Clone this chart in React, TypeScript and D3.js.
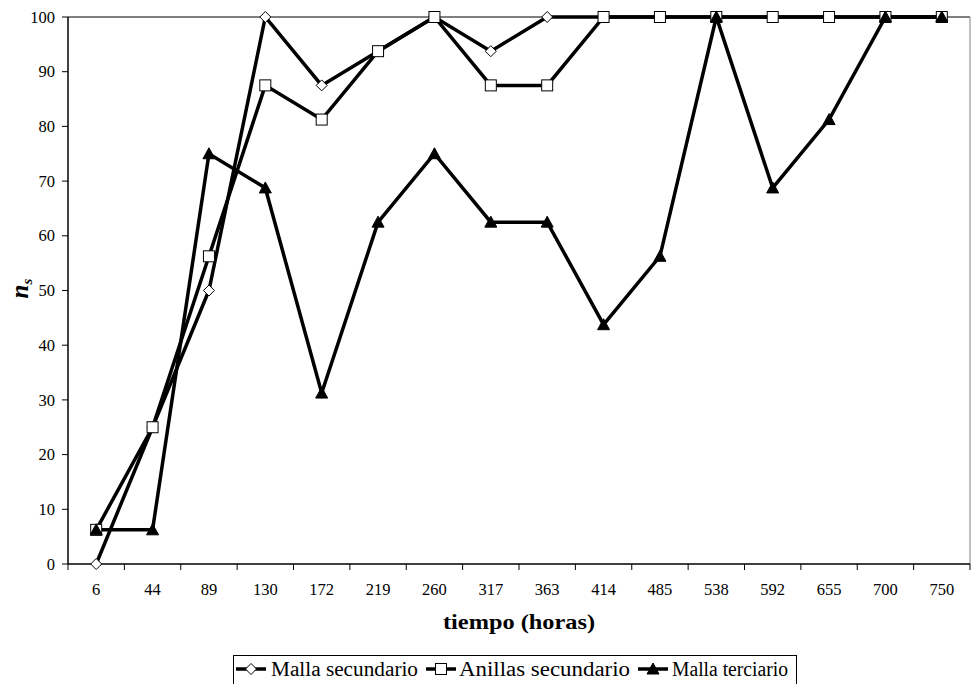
import React from "react";
import * as d3 from "d3";

const categories = ["6", "44", "89", "130", "172", "219", "260", "317", "363", "414", "485", "538", "592", "655", "700", "750"];
const mallaSecundario = [0, 25, 50, 100, 87.5, 93.75, 100, 93.75, 100, 100, 100, 100, 100, 100, 100, 100];
const anillasSecundario = [6.25, 25, 56.25, 87.5, 81.25, 93.75, 100, 87.5, 87.5, 100, 100, 100, 100, 100, 100, 100];
const mallaTerciario = [6.25, 6.25, 75, 68.75, 31.25, 62.5, 75, 62.5, 62.5, 43.75, 56.25, 100, 68.75, 81.25, 100, 100];
const yTicks = [0, 10, 20, 30, 40, 50, 60, 70, 80, 90, 100];
const seriesNames = ["Malla secundario", "Anillas secundario", "Malla terciario"];

const FONT = "'Liberation Serif', serif";

function Marker({ type, x, y }: { type: string; x: number; y: number }) {
  if (type === "diamond") {
    const r = 5.5;
    return <path d={`M${x},${y - r}L${x + r},${y}L${x},${y + r}L${x - r},${y}Z`} fill="#fff" stroke="#000" strokeWidth={1} />;
  }
  if (type === "square") {
    const r = 5.5;
    return <rect x={x - r} y={y - r} width={2 * r} height={2 * r} fill="#fff" stroke="#000" strokeWidth={1} />;
  }
  const r = 6;
  return <path d={`M${x},${y - 6}L${x + r},${y + 5}L${x - r},${y + 5}Z`} fill="#000" stroke="#000" strokeWidth={1} />;
}

export default function App() {
  const W = 971, H = 684;
  const left = 68, right = 970, top = 17, bottom = 564;
  const x = d3.scaleBand<string>().domain(categories).range([left, right]);
  const y = d3.scaleLinear().domain([0, 100]).range([bottom, top]);
  const cx = (c: string) => (x(c) as number) + x.bandwidth() / 2;
  const line = d3.line<number>().x((_, i) => cx(categories[i])).y((d) => y(d));

  const series = [
    { name: seriesNames[0], data: mallaSecundario, marker: "diamond" },
    { name: seriesNames[1], data: anillasSecundario, marker: "square" },
    { name: seriesNames[2], data: mallaTerciario, marker: "triangle" },
  ];

  const legendItems = [
    { x: 236, marker: "diamond", name: seriesNames[0], tx: 271, tl: 147 },
    { x: 426, marker: "square", name: seriesNames[1], tx: 459, tl: 171 },
    { x: 638, marker: "triangle", name: seriesNames[2], tx: 672, tl: 116 },
  ];

  const tf = { fontFamily: FONT };

  return (
    <svg width={W} height={H} style={{ position: "absolute", left: 0, top: 0, fontFamily: FONT }}>
      <rect x={0} y={0} width={W} height={H} fill="#fff" />
      {/* plot border */}
      <line x1={left} x2={right} y1={top} y2={top} stroke="#000" strokeWidth={1} />
      <line x1={right} x2={right} y1={top} y2={bottom} stroke="#808080" strokeWidth={1} />
      {/* y axis */}
      <line x1={left} x2={left} y1={top} y2={bottom} stroke="#000" strokeWidth={1.5} />
      {yTicks.map((t) => (
        <g key={t}>
          <line x1={left - 6} x2={left} y1={y(t)} y2={y(t)} stroke="#000" strokeWidth={1} />
          <text style={tf} x={55} y={y(t)} dy="0.34em" textAnchor="end" fontSize={16.5} fill="#000">{t}</text>
        </g>
      ))}
      {/* x axis */}
      <line x1={left} x2={right} y1={bottom} y2={bottom} stroke="#000" strokeWidth={1.5} />
      {categories.map((c) => (
        <g key={c}>
          <line x1={x(c) as number} x2={x(c) as number} y1={bottom} y2={bottom + 6} stroke="#000" strokeWidth={1} />
          <text style={tf} x={cx(c)} y={595} textAnchor="middle" fontSize={16.5} fill="#000">{c}</text>
        </g>
      ))}
      <line x1={right} x2={right} y1={bottom} y2={bottom + 6} stroke="#000" strokeWidth={1} />
      {/* titles */}
      <text style={tf} x={(left + right) / 2} y={629} textAnchor="middle" fontSize={21} fontWeight="bold" fill="#000" textLength={152} lengthAdjust="spacingAndGlyphs">tiempo (horas)</text>
      <text style={tf} transform={`translate(28,${(top + bottom) / 2 - 2}) rotate(-90)`} textAnchor="middle" fontSize={25} fontWeight="bold" fontStyle="italic" fill="#000">
        n<tspan fontSize={15} dy={4}>s</tspan>
      </text>
      {/* series */}
      {series.map((s) => (
        <path key={s.name} d={line(s.data) as string} fill="none" stroke="#000" strokeWidth={3.5} strokeLinejoin="miter" />
      ))}
      {series.map((s) => (
        <g key={s.name + "m"}>
          {s.data.map((v, i) => (
            <Marker key={i} type={s.marker} x={cx(categories[i])} y={y(v)} />
          ))}
        </g>
      ))}
      {/* legend */}
      <rect x={233.5} y={655.5} width={563} height={40} fill="#fff" stroke="#000" strokeWidth={1} />
      {legendItems.map((it) => (
        <g key={it.name}>
          <line x1={it.x} x2={it.x + 30} y1={669} y2={669} stroke="#000" strokeWidth={3.5} />
          <Marker type={it.marker} x={it.x + 15} y={669} />
          <text style={tf} x={it.tx} y={676} fontSize={20} fill="#000" textLength={it.tl} lengthAdjust="spacingAndGlyphs">{it.name}</text>
        </g>
      ))}
    </svg>
  );
}
